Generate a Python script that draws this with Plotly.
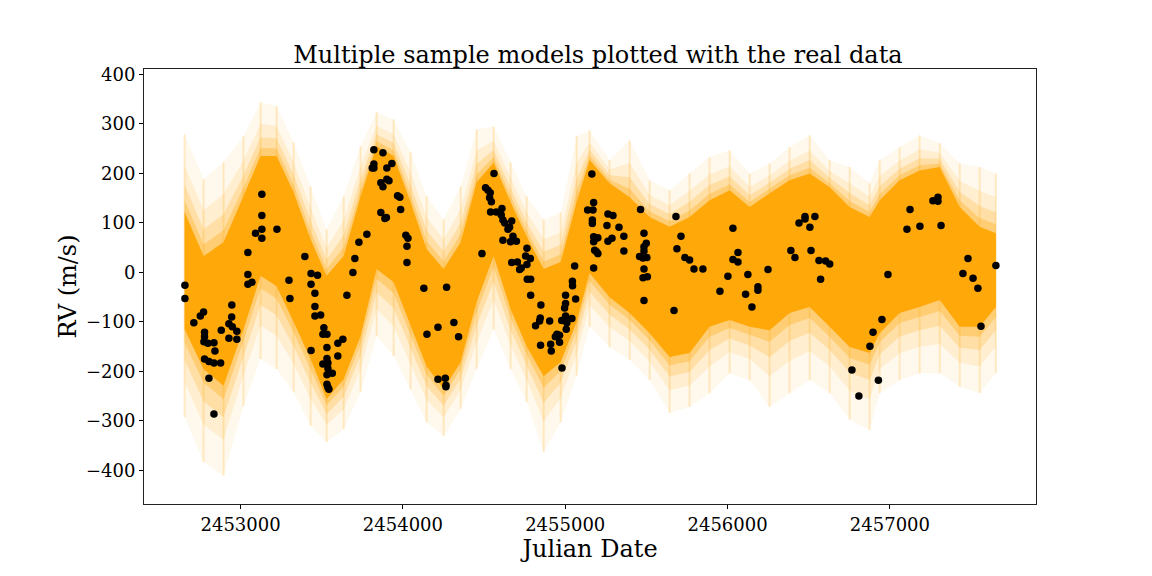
import plotly.graph_objects as go

# observed radial velocities (Julian Date, RV in m/s)
jd = [2452657, 2452657, 2452712, 2452752, 2452772, 2452778, 2452778, 2452774, 2452799, 2452836,
      2452842, 2452778, 2452805, 2452836, 2452877, 2452805, 2452836, 2452881, 2452946, 2452945,
      2452928, 2452949, 2452977, 2452928, 2452977, 2453045, 2453045, 2453045, 2453070, 2453092,
      2453131, 2453131, 2453131, 2453131, 2453224, 2453298, 2453304, 2453396, 2453434, 2453434,
      2453474, 2453458, 2453458, 2453458, 2453493, 2453434, 2453513, 2453507, 2453532, 2453532,
      2453532, 2453507, 2453538, 2453538, 2453532, 2453565, 2453532, 2453538, 2453544, 2453599,
      2453630, 2453599, 2453655, 2453692, 2453704, 2453729, 2453778, 2453821, 2453877, 2453932,
      2453821, 2453811, 2453821, 2453901, 2453864, 2453877, 2453901, 2453914, 2453967, 2453981,
      2453986, 2453864, 2453889, 2453898, 2454018, 2454031, 2454025, 2454025, 2454129, 2454269,
      2454148, 2454216, 2454314, 2454343, 2454216, 2454261, 2454265, 2454265, 2454487, 2454561,
      2454509, 2454524, 2454538, 2454534, 2454545, 2454540, 2454575, 2454610, 2454606, 2454616,
      2454627, 2454670, 2454657, 2454647, 2454678, 2454663, 2454699, 2454616, 2454764, 2454756,
      2454785, 2454670, 2454705, 2454764, 2454729, 2454719, 2454766, 2454787, 2454787, 2455058,
      2455044, 2455045, 2455002, 2455064, 2455002, 2454996, 2454850, 2454846, 2454842, 2454904,
      2454817, 2455002, 2455041, 2454978, 2455010, 2455006, 2454949, 2454965, 2454939, 2454848,
      2454965, 2454910, 2454914, 2454980, 2455164, 2455175, 2455138, 2455171, 2455167, 2455167,
      2455175, 2455191, 2455175, 2455191, 2455175, 2455201, 2455181, 2455201, 2455263,
      2455294, 2455257, 2455331, 2455263, 2455288, 2455361, 2455361, 2455464, 2455485, 2455499,
      2455485, 2455485, 2455458, 2455479, 2455503, 2455485, 2455479, 2455506, 2455485, 2455670,
      2455682, 2455713, 2455688, 2455737, 2455766, 2455793, 2455848, 2455953, 2456002, 2456033,
      2456033, 2456064, 2456064, 2456125, 2456111, 2456187, 2456187, 2456150, 2456249, 2456390,
      2456415, 2456440, 2456477, 2456477, 2456538, 2456507, 2456514, 2456563, 2456604, 2456629,
      2456573, 2456766, 2456809, 2456877, 2456896, 2456929, 2456951, 2456988, 2457105, 2457124,
      2457185, 2457265, 2457296, 2457296, 2457315, 2457450, 2457481, 2457512, 2457542, 2457561, 2457653]
rv = [-26, -53, -102, -88, -80, -121, -130, -140, -143, -142,
      -159, -175, -180, -183, -183, -214, -286, -117, -66, -90,
      -104, -110, -119, -133, -135, 40, -4, -24, -20, 79,
      87, 69, 115, 158, 87, -16, -53, 32, -2, -24,
      -6, -42, -69, -88, -86, -158, -112, -125, -125, -152,
      -174, -185, -183, -194, -207, -204, -226, -232, -236, -143,
      -135, -169, -46, 0, 28, 61, 77, 248, 242, 220,
      219, 211, 211, 211, 181, 173, 188, 185, 155, 152,
      127, 121, 109, 111, 75, 69, 53, 20, -32, -30,
      -125, -111, -101, -130, -216, -214, -228, -231, 38, 200,
      171, 166, 161, 151, 143, 122, 122, 129, 116, 106,
      100, 104, 91, 87, 73, 62, 63, 65, 49, 33,
      28, 20, 21, 16, 9, 6, -14, -14, -46, 13,
      -18, -27, -46, -54, -63, -72, -66, -92, -98, -98,
      -108, -88, -93, -97, -102, -115, -125, -127, -130, -147,
      -141, -145, -159, -193, 199, 141, 126, 126, 106, 99,
      72, 69, 62, 42, 9, 70, 45, 38, 118,
      115, 95, 91, 63, 69, 73, 43, 127, 79, 59,
      52, 43, 32, 29, 30, 7, -11, -9, -57, -77,
      113, 73, 48, 30, 25, 7, 7, -38, -8, 89,
      26, 21, 40, -4, -44, -29, -36, -70, 6, 44,
      30, 100, 113, 108, 113, 91, 44, 24, 23, 17,
      -14, -197, -250, -149, -121, -218, -95, -4, 87, 127,
      93, 145, 152, 144, 95, -2, 28, -12, -32, -109, 14]

grid_jd = [2452655, 2452772, 2452895, 2453018, 2453123, 2453222, 2453327, 2453431, 2453530, 2453635,
           2453739, 2453838, 2453943, 2454047, 2454146, 2454251, 2454356, 2454454, 2454559, 2454663,
           2454762, 2454867, 2454972, 2455070, 2455150, 2455273, 2455397, 2455520, 2455643, 2455766,
           2455889, 2456013, 2456136, 2456259, 2456382, 2456506, 2456629, 2456752, 2456875, 2456937,
           2457060, 2457183, 2457307, 2457430, 2457553, 2457653]
faint_hi = [279, 188, 223, 275, 344, 336, 263, 174, 87, 154, 255, 324, 309, 243, 154, 107, 174, 289, 295, 223,
            154, 107, 121, 275, 287, 227, 267, 186, 166, 200, 233, 247, 200, 220, 253, 277, 227, 213, 180, 227,
            253, 277, 261, 220, 213, 200]
core_hi = [122, 33, 61, 154, 235, 235, 162, 67, -7, 33, 154, 255, 235, 142, 47, 7, 61, 182, 222, 142,
           73, 7, 21, 142, 227, 180, 152, 112, 92, 112, 146, 166, 132, 160, 186, 200, 172, 132, 112, 146,
           186, 206, 213, 132, 92, 79]
core_lo = [-115, -195, -229, -115, -7, -28, -100, -175, -256, -216, -129, 7, -20, -108, -190, -236, -181, -60, 33, -74,
           -149, -210, -181, -100, -1, -50, -82, -123, -171, -163, -110, -96, -110, -117, -82, -70, -110, -151, -163, -123,
           -82, -70, -56, -110, -110, -70]
faint_lo = [-292, -383, -411, -270, -175, -195, -242, -310, -343, -317, -242, -129, -169, -236, -303, -331, -276, -195, -115, -195,
            -262, -363, -303, -209, -110, -151, -177, -218, -284, -272, -244, -204, -218, -272, -244, -218, -244, -298, -319, -244,
            -218, -204, -204, -231, -244, -204]


def band(hi, lo, color):
    return go.Scatter(x=grid_jd + grid_jd[::-1], y=list(hi) + list(lo)[::-1],
                      fill="toself", fillcolor=color, line=dict(width=0),
                      mode="lines", hoverinfo="skip", showlegend=False)


fig = go.Figure()

# faint outer spread
fig.add_trace(band(faint_hi, faint_lo, "rgba(255,165,0,0.07)"))

# vertical streaks
sx, sy = [], []
for g, lo, hi in zip(grid_jd, faint_lo, faint_hi):
    sx += [g, g, None]
    sy += [lo, hi, None]
fig.add_trace(go.Scatter(x=sx, y=sy, mode="lines", line=dict(color="rgba(255,165,0,0.2)", width=2),
                         hoverinfo="skip", showlegend=False))

# soft fringe between the faint spread and the dense core
for f, a in [(0.6, 0.12), (0.35, 0.2), (0.15, 0.3)]:
    hi = [c + f * (t - c) for c, t in zip(core_hi, faint_hi)]
    lo = [c + f * (b - c) for c, b in zip(core_lo, faint_lo)]
    fig.add_trace(band(hi, lo, f"rgba(255,165,0,{a})"))

# dense core
fig.add_trace(band(core_hi, core_lo, "rgba(255,165,0,0.92)"))

fig.add_trace(go.Scatter(x=jd, y=rv, mode="markers",
                         marker=dict(color="black", size=7.5), showlegend=False))

font = "DejaVu Serif"
fig.update_layout(
    width=1152, height=576,
    paper_bgcolor="white", plot_bgcolor="white",
    margin=dict(l=136, r=124, t=61, b=80),
    font=dict(family=font, color="black"),
    title=dict(text="Multiple sample models plotted with the real data",
               x=0.5121, xanchor="center", y=1 - 47 / 576, yanchor="middle",
               font=dict(family=font, size=24, color="black")),
)
fig.update_xaxes(range=[2452405, 2457900], tickvals=[2453000, 2454000, 2455000, 2456000, 2457000],
                 tickformat="d", ticks="outside", ticklen=4, tickcolor="black", automargin=False,
                 showline=True, linecolor="#222", linewidth=1, mirror=True, showgrid=False, zeroline=False,
                 tickfont=dict(size=18), title=dict(text="Julian Date", font=dict(size=24), standoff=0))
fig.update_yaxes(range=[-468, 411], dtick=100, ticks="outside", ticklen=4, tickcolor="black", automargin=False,
                 showline=True, linecolor="#222", linewidth=1, mirror=True, showgrid=False, zeroline=False,
                 tickfont=dict(size=18), title=dict(text="RV (m/s)", font=dict(size=24), standoff=2))

fig.write_html("out.html")
